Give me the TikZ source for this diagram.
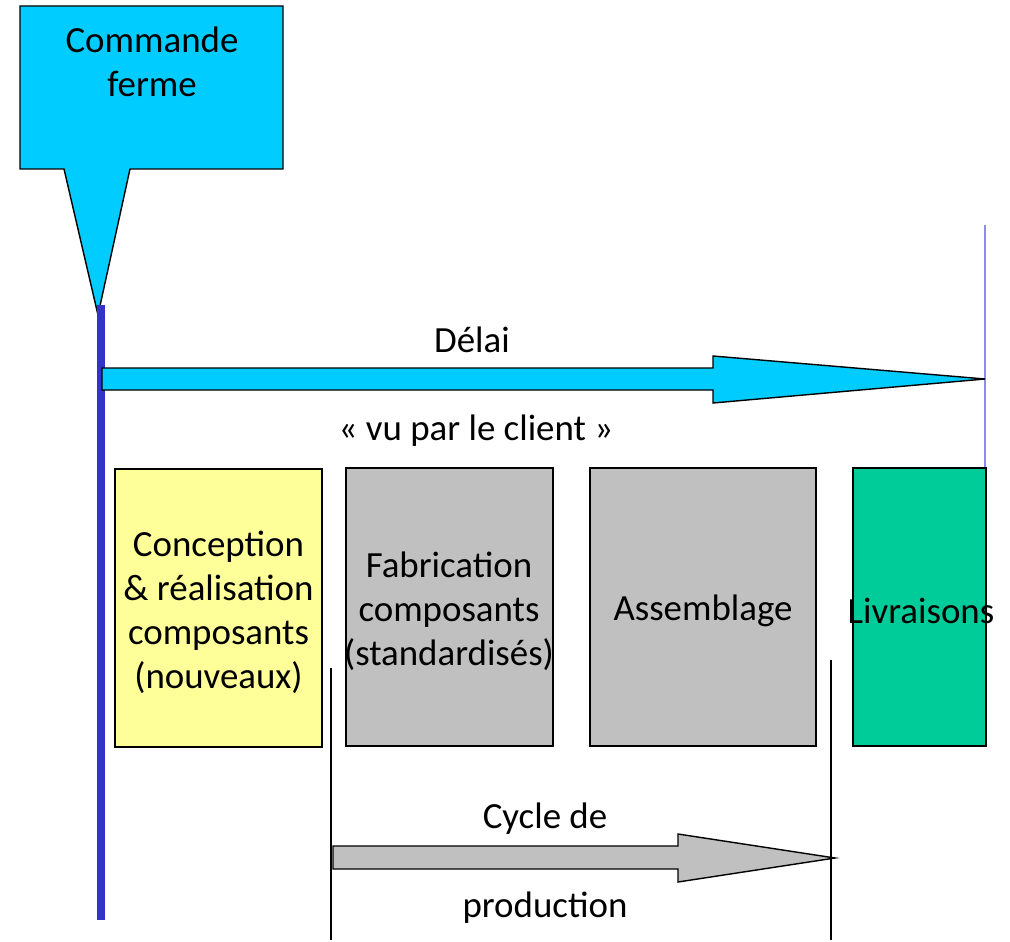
\documentclass[tikz,border=0pt]{standalone}
\usepackage{fontspec}
\setmainfont{Carlito}
\usetikzlibrary{positioning}

\definecolor{cmdcyan}{HTML}{00CCFF}
\definecolor{newyellow}{HTML}{FFFF99}
\definecolor{stdgray}{HTML}{C0C0C0}
\definecolor{delivgreen}{HTML}{00CC99}
\definecolor{orderblue}{HTML}{3333CC}
\definecolor{endline}{HTML}{8C8CEE}

\tikzset{
  phase/.style={draw, line width=0.8pt, minimum width=#1, minimum height=5.56cm, inner sep=0pt},
  lbl/.style={font=\fontsize{21}{25}\selectfont, align=center, inner sep=0pt},
  bigarrow/.style={draw, line width=0.8pt, line join=miter}
}

\begin{document}
\begin{tikzpicture}[x=0.02cm, y=-0.02cm]
\useasboundingbox (0,0) rectangle (1010,942);

%% order callout
\draw[bigarrow, fill=cmdcyan] (20,6) -- (283,6) -- (283,169) -- (130,169) -- (98,315)
  -- (64,169) -- (20,169) -- cycle;
\node[lbl] (cmd) at (152,62) {Commande\\ferme};

%% time lines
\coordinate (start) at (101,305);
\coordinate (startend) at (101,920);
\draw[orderblue, line width=4.5pt] (start) -- (startend);
\coordinate (deliv) at (985,225);
\coordinate (delivend) at (985,470);
\draw[endline, line width=0.9pt] (deliv) -- (delivend);

%% lead time arrow
\draw[bigarrow, fill=cmdcyan] (102,368) -- (713,368) -- (713,356) -- (985,379)
  -- (713,403) -- (713,390) -- (102,390) -- cycle;
\node[lbl] (delai) at (472,340) {Délai};
\node[lbl] (client) at (476,431) {« vu par le client »};

%% phases
\node[phase=4.14cm, fill=newyellow] (conception) at (218.5,608) {};
\node[lbl] at (218.5,612) {Conception\\\& réalisation\\composants\\(nouveaux)};
\node[phase=4.14cm, fill=stdgray] (fabrication) at (449.5,607) {};
\node[lbl] at (449,611) {Fabrication\\composants\\(standardisés)};
\node[phase=4.52cm, fill=stdgray] (assemblage) at (703,607) {};
\node[lbl] at (703,611) {Assemblage};
\node[phase=2.66cm, fill=delivgreen] (livraisons) at (919.5,607) {};
\node[lbl] at (921,611) {Livraisons};

%% production cycle
\coordinate (cyclestart) at (331,668);
\coordinate (cyclestartend) at (331,940);
\draw[line width=1pt] (cyclestart) -- (cyclestartend);
\coordinate (cycleend) at (831,660);
\coordinate (cycleendend) at (831,940);
\draw[line width=1pt] (cycleend) -- (cycleendend);
\draw[bigarrow, fill=stdgray] (333,846) -- (678,846) -- (678,834) -- (835,858)
  -- (678,882) -- (678,869) -- (333,869) -- cycle;
\node[lbl] (cycle) at (545,819) {Cycle de};
\node[lbl] (production) at (545,908) {production};

\end{tikzpicture}
\end{document}
